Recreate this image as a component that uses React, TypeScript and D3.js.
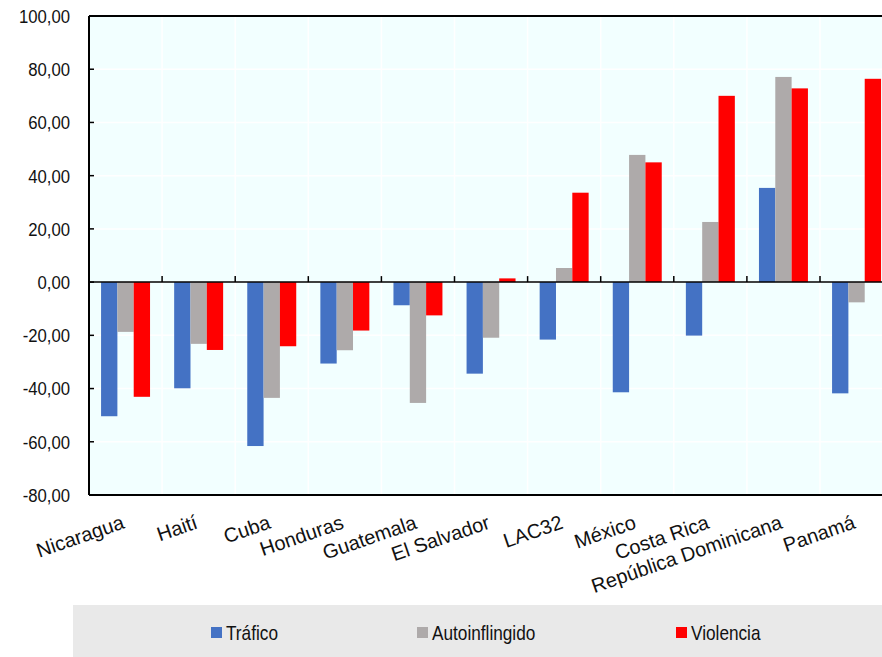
import React from "react";
import * as d3 from "d3";

const categories = ["Nicaragua", "Haití", "Cuba", "Honduras", "Guatemala", "El Salvador", "LAC32", "México", "Costa Rica", "República Dominicana", "Panamá"];
const seriesNames = ["Tráfico", "Autoinflingido", "Violencia"];
const trafico = [-50.4, -39.9, -61.6, -30.6, -8.7, -34.4, -21.6, -41.4, -20.1, 35.4, -41.8];
const autoinflingido = [-18.7, -23.2, -43.5, -25.6, -45.4, -20.9, 5.3, 47.8, 22.6, 77.1, -7.6];
const violencia = [-43.1, -25.5, -24.1, -18.2, -12.5, 1.4, 33.6, 45.0, 70.0, 72.8, 76.4];
const yTicks = [100, 80, 60, 40, 20, 0, -20, -40, -60, -80];
const colors = ["#4472C4", "#AEAAAA", "#FF0000"];

const W = 882;
const H = 657;
const left = 89;
const top = 16;
const bottom = 495;
const band = 73.1;
const right = left + band * categories.length;

const fmt = (v: number) => v.toFixed(2).replace(".", ",");

export default function App() {
  const values = [trafico, autoinflingido, violencia];
  const y = d3.scaleLinear().domain([-80, 100]).range([bottom, top]);
  const x0 = d3.scaleBand<string>().domain(categories).range([left, right]).padding(0);
  const bw = x0.bandwidth();
  const x1 = d3.scaleBand<string>().domain(seriesNames).range([bw * 0.165, bw * 0.835]).padding(0);
  const y0 = y(0);

  return (
    <svg width={W} height={H} style={{ position: "absolute", left: 0, top: 0, overflow: "hidden", fontFamily: "'Liberation Sans', Arial, sans-serif" }}>
      <rect x={0} y={0} width={W} height={H} fill="#ffffff" />
      <rect x={left} y={top} width={right - left} height={bottom - top} fill="#F2FFFF" />
      {yTicks.map((t) => (
        <line key={"gy" + t} x1={left} x2={right} y1={y(t)} y2={y(t)} stroke="#ffffff" strokeWidth={1.5} />
      ))}
      {categories.map((c) => (
        <line key={"gx" + c} x1={(x0(c) as number) + bw} x2={(x0(c) as number) + bw} y1={top} y2={bottom} stroke="#ffffff" strokeWidth={1.5} />
      ))}
      {categories.map((c, i) =>
        seriesNames.map((s, j) => {
          const v = values[j][i];
          const bx = (x0(c) as number) + (x1(s) as number);
          const yy = y(Math.max(0, v));
          const hh = Math.abs(y(v) - y0);
          return <rect key={c + s} x={bx} y={yy} width={x1.bandwidth()} height={hh} fill={colors[j]} />;
        })
      )}
      <line x1={left} x2={right} y1={top} y2={top} stroke="#000" strokeWidth={2} />
      <line x1={left} x2={right} y1={bottom} y2={bottom} stroke="#000" strokeWidth={2} />
      <line x1={left} x2={left} y1={top} y2={bottom} stroke="#000" strokeWidth={2} />
      <line x1={left} x2={right} y1={y0} y2={y0} stroke="#000" strokeWidth={1.5} />
      {categories.map((c) => (
        <line key={"tk" + c} x1={(x0(c) as number) + bw} x2={(x0(c) as number) + bw} y1={y0} y2={y0 - 6} stroke="#000" strokeWidth={1.5} />
      ))}
      {yTicks.map((t) => (
        <g key={"yt" + t}>
          <line x1={left} x2={left + 5} y1={y(t)} y2={y(t)} stroke="#000" strokeWidth={1.5} />
          <text transform={`translate(70,${y(t)}) scale(0.88,1)`} dy="0.36em" textAnchor="end" fontSize={19} fill="#111">
            {fmt(t)}
          </text>
        </g>
      ))}
      {categories.map((c) => (
        <text key={"xl" + c} transform={`translate(${(x0(c) as number) + bw / 2},528) rotate(-19)`} textAnchor="end" fontSize={20} fill="#111">
          {c}
        </text>
      ))}
      <rect x={73} y={605} width={W - 73} height={H - 605} fill="#E9E9E9" />
      {seriesNames.map((s, j) => {
        const lx = [211, 417, 676][j];
        return (
          <g key={"lg" + s}>
            <rect x={lx} y={627} width={11} height={11} fill={colors[j]} />
            <text transform={`translate(${lx + 15},640) scale(0.82,1)`} fontSize={21} fill="#111">
              {s}
            </text>
          </g>
        );
      })}
    </svg>
  );
}
